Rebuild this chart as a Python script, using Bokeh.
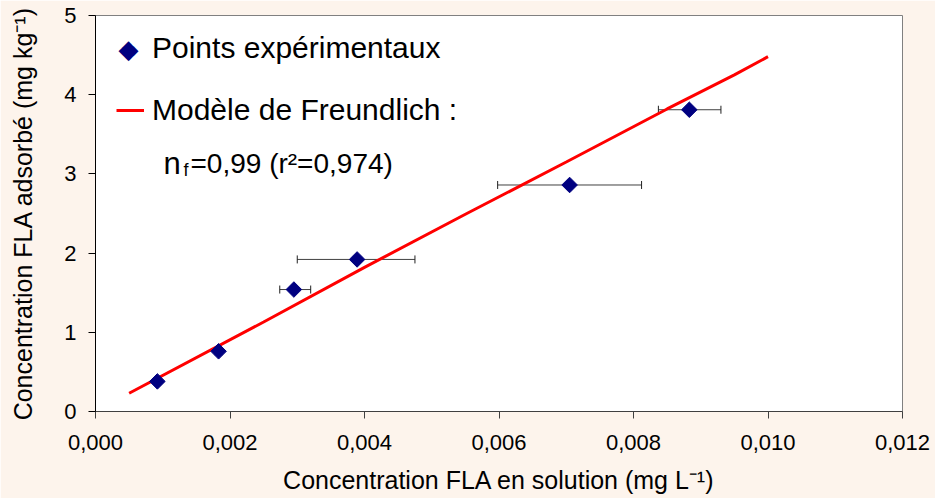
from bokeh.plotting import figure
from bokeh.models import (ColumnDataSource, Whisker, TeeHead, Legend, LegendItem,
                          Label, FixedTicker, Range1d)
from bokeh.embed import file_html
from bokeh.resources import INLINE
import math

# ---- data ----
x_exp = [0.00092, 0.00183, 0.00295, 0.00389, 0.00705, 0.00883]
y_exp = [0.38, 0.76, 1.54, 1.92, 2.86, 3.81]
x_err_low = [0.00088, 0.00178, 0.00274, 0.00300, 0.00598, 0.00837]
x_err_high = [0.00096, 0.00188, 0.00320, 0.00475, 0.00812, 0.00930]

x_fit = [0.0005, 0.0025, 0.0040, 0.0055, 0.0070, 0.0085, 0.0095, 0.0100]
y_fit = [0.23, 1.13, 1.82, 2.49, 3.15, 3.82, 4.25, 4.48]

x_ticks = [0.000, 0.002, 0.004, 0.006, 0.008, 0.010, 0.012]
x_tick_labels = ["0,000", "0,002", "0,004", "0,006", "0,008", "0,010", "0,012"]
y_ticks = [0, 1, 2, 3, 4, 5]
y_tick_labels = ["0", "1", "2", "3", "4", "5"]

legend_labels = ["Points expérimentaux", "Modèle de Freundlich :"]
x_title = "Concentration FLA en solution (mg L⁻¹)"
y_title = "Concentration FLA adsorbé (mg kg⁻¹)"

FONT = "Liberation Sans"
BG = "#FDF4EC"

p = figure(width=935, height=498, output_backend="svg", toolbar_location=None,
           x_range=Range1d(0, 0.012), y_range=Range1d(0, 5),
           min_border_left=95, min_border_right=33, min_border_top=15, min_border_bottom=87)
p.background_fill_color = "white"
p.border_fill_color = BG
p.outline_line_color = "#808080"
p.outline_line_width = 1
p.grid.visible = False

# axes
p.xaxis.ticker = FixedTicker(ticks=x_ticks)
p.xaxis.major_label_overrides = dict(zip(x_ticks, x_tick_labels))
p.yaxis.ticker = FixedTicker(ticks=y_ticks)
p.yaxis.major_label_overrides = dict(zip(y_ticks, y_tick_labels))
for ax in (p.xaxis[0], p.yaxis[0]):
    ax.minor_tick_line_color = None
    ax.major_tick_in = 0
    ax.major_tick_out = 7
    ax.major_label_text_font = FONT
    ax.major_label_text_font_size = "22px"
    ax.major_label_text_color = "black"
    ax.axis_label_text_font = FONT
    ax.axis_label_text_font_size = "25px"
    ax.axis_label_text_font_style = "normal"
    ax.axis_label_text_color = "black"
p.xaxis.axis_label = x_title
p.yaxis.axis_label = y_title
p.xaxis.axis_line_color = "#404040"
p.xaxis.major_tick_line_color = "#404040"
p.yaxis.axis_line_color = "black"
p.yaxis.major_tick_line_color = "black"
p.xaxis.major_label_standoff = 16
p.xaxis.axis_label_standoff = 13
p.yaxis.major_label_standoff = 12
p.yaxis.axis_label_standoff = 24

# error bars
src = ColumnDataSource(dict(x=x_exp, y=y_exp, lo=x_err_low, hi=x_err_high))
wh = Whisker(source=src, base="y", lower="lo", upper="hi", dimension="width",
             line_color="#404040", line_width=1,
             lower_head=TeeHead(size=8, line_color="#202020", line_width=1),
             upper_head=TeeHead(size=8, line_color="#202020", line_width=1))
p.add_layout(wh)

# fitted line
fit_src = ColumnDataSource(dict(x=x_fit, y=y_fit))
line_r = p.line("x", "y", source=fit_src, line_color="#FF0000", line_width=3)

# points (diamonds)
pts_r = p.scatter("x", "y", source=src, marker="square", size=11, angle=math.pi / 4,
                  fill_color="#000080", line_color="#000080")

# legend: invisible glyph for the points row; its diamond is drawn as a text glyph
dummy_r = p.scatter(x=[], y=[], marker="square", size=11, fill_alpha=0, line_alpha=0)
legend = Legend(items=[LegendItem(label=legend_labels[0], renderers=[dummy_r]),
                       LegendItem(label=legend_labels[1], renderers=[line_r])],
                location=(21, 281), padding=0, margin=0, spacing=22,
                glyph_width=28, glyph_height=28, label_height=40, label_standoff=8,
                label_text_font=FONT, label_text_font_size="30px", label_text_color="black",
                background_fill_alpha=0, border_line_alpha=0)
p.add_layout(legend)

p.add_layout(Label(x=33, y=363, x_units="screen", y_units="screen", text="◆",
                   text_font="DejaVu Sans", text_font_size="26px", text_color="#000080",
                   text_align="center", text_baseline="middle"))

lab_kw = dict(x_units="screen", y_units="screen", text_font=FONT, text_color="black",
              text_baseline="alphabetic", text_align="left")
p.add_layout(Label(x=68, y=248, text="n", text_font_size="31px", **lab_kw))
p.add_layout(Label(x=88, y=242, text="f", text_font_size="18px", **lab_kw))
p.add_layout(Label(x=95, y=248, text="=0,99 (r²=0,974)", text_font_size="28px", **lab_kw))

html = file_html(p, INLINE)
html = html.replace("<body>", '<body style="background-color:%s;">' % BG, 1)
open("out.html", "w").write(html)
